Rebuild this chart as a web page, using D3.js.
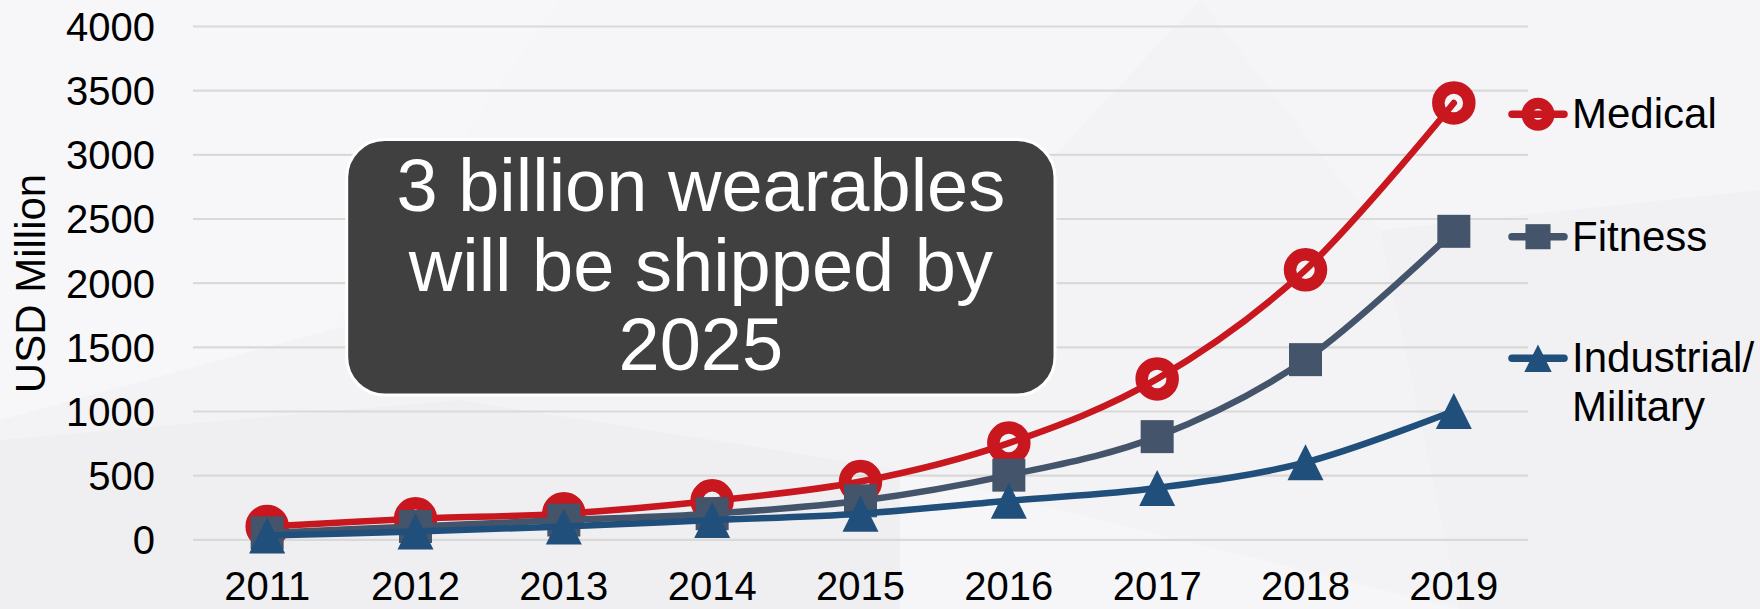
<!DOCTYPE html>
<html>
<head>
<meta charset="utf-8">
<script src="https://cdn.jsdelivr.net/npm/d3@7"></script>
<style>
  html, body { margin: 0; padding: 0; background: #f3f3f5; }
  svg { display: block; }
  text { font-family: "Liberation Sans", Arial, Helvetica, sans-serif; }
</style>
</head>
<body>
<svg id="chart" width="1760" height="609"></svg>
<script>
// Wearables market, USD million per year
const years = ["2011", "2012", "2013", "2014", "2015", "2016", "2017", "2018", "2019"];
const medical = [100, 160, 200, 300, 450, 750, 1250, 2100, 3400];
const fitness = [50, 100, 150, 200, 300, 500, 800, 1400, 2400];
const industrial = [30, 60, 100, 150, 200, 300, 400, 600, 1000];
const yTicks = [0, 500, 1000, 1500, 2000, 2500, 3000, 3500, 4000];
const seriesNames = ["Medical", "Fitness", "Industrial/\nMilitary"];
const calloutLines = ["3 billion wearables", "will be shipped by", "2025"];

const series = [
  { name: seriesNames[0], values: medical, color: "#c8171f", marker: "circle" },
  { name: seriesNames[1], values: fitness, color: "#44546a", marker: "square" },
  { name: seriesNames[2], values: industrial, color: "#214f7b", marker: "triangle" }
];

const svg = d3.select("#chart");
const W = 1760, H = 609;

// background with faint facets
svg.append("rect").attr("width", W).attr("height", H).attr("fill", "#f3f3f5");
const facets = [
  { pts: [[0, 0], [560, 0], [330, 330], [0, 420]], fill: "#f7f7f9" },
  { pts: [[0, 440], [460, 400], [900, 470], [900, 609], [0, 609]], fill: "#efeff2" },
  { pts: [[560, 0], [1200, 0], [1050, 160], [330, 330]], fill: "#f6f6f8" },
  { pts: [[1380, 230], [1760, 190], [1760, 609], [1460, 609]], fill: "#f1f1f4" },
  { pts: [[1200, 0], [1760, 0], [1760, 190], [1380, 230]], fill: "#f5f5f7" },
  { pts: [[900, 470], [1460, 609], [900, 609]], fill: "#f6f6f8" }
];
svg.append("g").selectAll("polygon").data(facets).join("polygon")
  .attr("points", d => d.pts.map(p => p.join(",")).join(" "))
  .attr("fill", d => d.fill);

const plotLeft = 193, plotRight = 1528, plotTop = 26, plotBottom = 539.3;

const x = d3.scaleBand().domain(years).range([plotLeft, plotRight]).padding(0);
const cx = d => x(d) + x.bandwidth() / 2;
const y = d3.scaleLinear().domain([0, 4000]).range([plotBottom, plotTop]);

// gridlines + y labels
const yAxis = svg.append("g")
  .attr("transform", `translate(${plotLeft},0)`)
  .call(d3.axisLeft(y).tickValues(yTicks).tickSize(-(plotRight - plotLeft)).tickPadding(38).tickFormat(d3.format("d")));
yAxis.select(".domain").remove();
yAxis.selectAll(".tick line").attr("stroke", "#d9d9d9").attr("stroke-width", 2.2);
yAxis.selectAll(".tick text")
  .attr("fill", "#000").attr("font-size", 40).attr("dy", "0.36em")
  .style("font-family", "'Liberation Sans', Arial, sans-serif");

// x labels
const xAxis = svg.append("g")
  .attr("transform", `translate(0,${plotBottom})`)
  .call(d3.axisBottom(x).tickSize(0).tickPadding(32.5));
xAxis.select(".domain").remove();
xAxis.selectAll(".tick text")
  .attr("fill", "#000").attr("font-size", 40).attr("dy", "0.71em")
  .style("font-family", "'Liberation Sans', Arial, sans-serif");

// y axis title
svg.append("text")
  .attr("transform", `translate(45,283.5) rotate(-90)`)
  .attr("text-anchor", "middle")
  .attr("font-size", 42)
  .attr("fill", "#000")
  .text("USD Million");

// marker drawing helper
function drawMarker(sel, kind, color, s) {
  if (kind === "circle") {
    sel.append("circle").attr("r", 15.5 * s).attr("fill", "none")
      .attr("stroke", color).attr("stroke-width", 12.5 * s);
  } else if (kind === "square") {
    const a = 33 * s;
    sel.append("rect").attr("x", -a / 2).attr("y", -a / 2).attr("width", a).attr("height", a).attr("fill", color);
  } else {
    const w = 36 * s, h = 36 * s;
    sel.append("path").attr("d", `M0,${-h / 2}L${w / 2},${h / 2}L${-w / 2},${h / 2}Z`).attr("fill", color);
  }
}

const line = d3.line().curve(d3.curveCardinal.tension(0)).x((d, i) => cx(years[i])).y(d => y(d));

series.forEach(s => {
  const g = svg.append("g");
  g.append("path").attr("d", line(s.values)).attr("fill", "none")
    .attr("stroke", s.color).attr("stroke-width", 6.5).attr("stroke-linejoin", "round").attr("stroke-linecap", "round");
  s.values.forEach((v, i) => {
    const m = g.append("g").attr("transform", `translate(${cx(years[i])},${y(v)})`);
    drawMarker(m, s.marker, s.color, 1);
  });
});

// legend
const legendY = [114.3, 236.7, 358.3];
series.forEach((s, i) => {
  const g = svg.append("g").attr("transform", `translate(1538,${legendY[i]})`);
  g.append("line").attr("x1", -26).attr("x2", 26).attr("stroke", s.color)
    .attr("stroke-width", 7.5).attr("stroke-linecap", "round");
  if (s.marker === "circle") {
    g.append("circle").attr("r", 11).attr("fill", "none").attr("stroke", s.color).attr("stroke-width", 11);
  } else {
    drawMarker(g, s.marker, s.color, 0.76);
  }
  const t = g.append("text").attr("x", 34).attr("y", 14).attr("font-size", 42).attr("fill", "#000");
  s.name.split("\n").forEach((ln, k) => {
    t.append("tspan").attr("x", 34).attr("dy", k === 0 ? 0 : 48.3).text(ln);
  });
});

// callout box
const box = { x: 346.7, y: 139.5, w: 708.3, h: 255.5 };
svg.append("rect")
  .attr("x", box.x).attr("y", box.y).attr("width", box.w).attr("height", box.h)
  .attr("rx", 38).attr("ry", 38)
  .attr("fill", "#404040").attr("stroke", "#ffffff").attr("stroke-width", 3);
const boxCx = box.x + box.w / 2;
const baselines = [210.7, 290.7, 370];
calloutLines.forEach((ln, i) => {
  svg.append("text").attr("x", boxCx).attr("y", baselines[i])
    .attr("text-anchor", "middle").attr("font-size", 74).attr("fill", "#ffffff").text(ln);
});
</script>
</body>
</html>
